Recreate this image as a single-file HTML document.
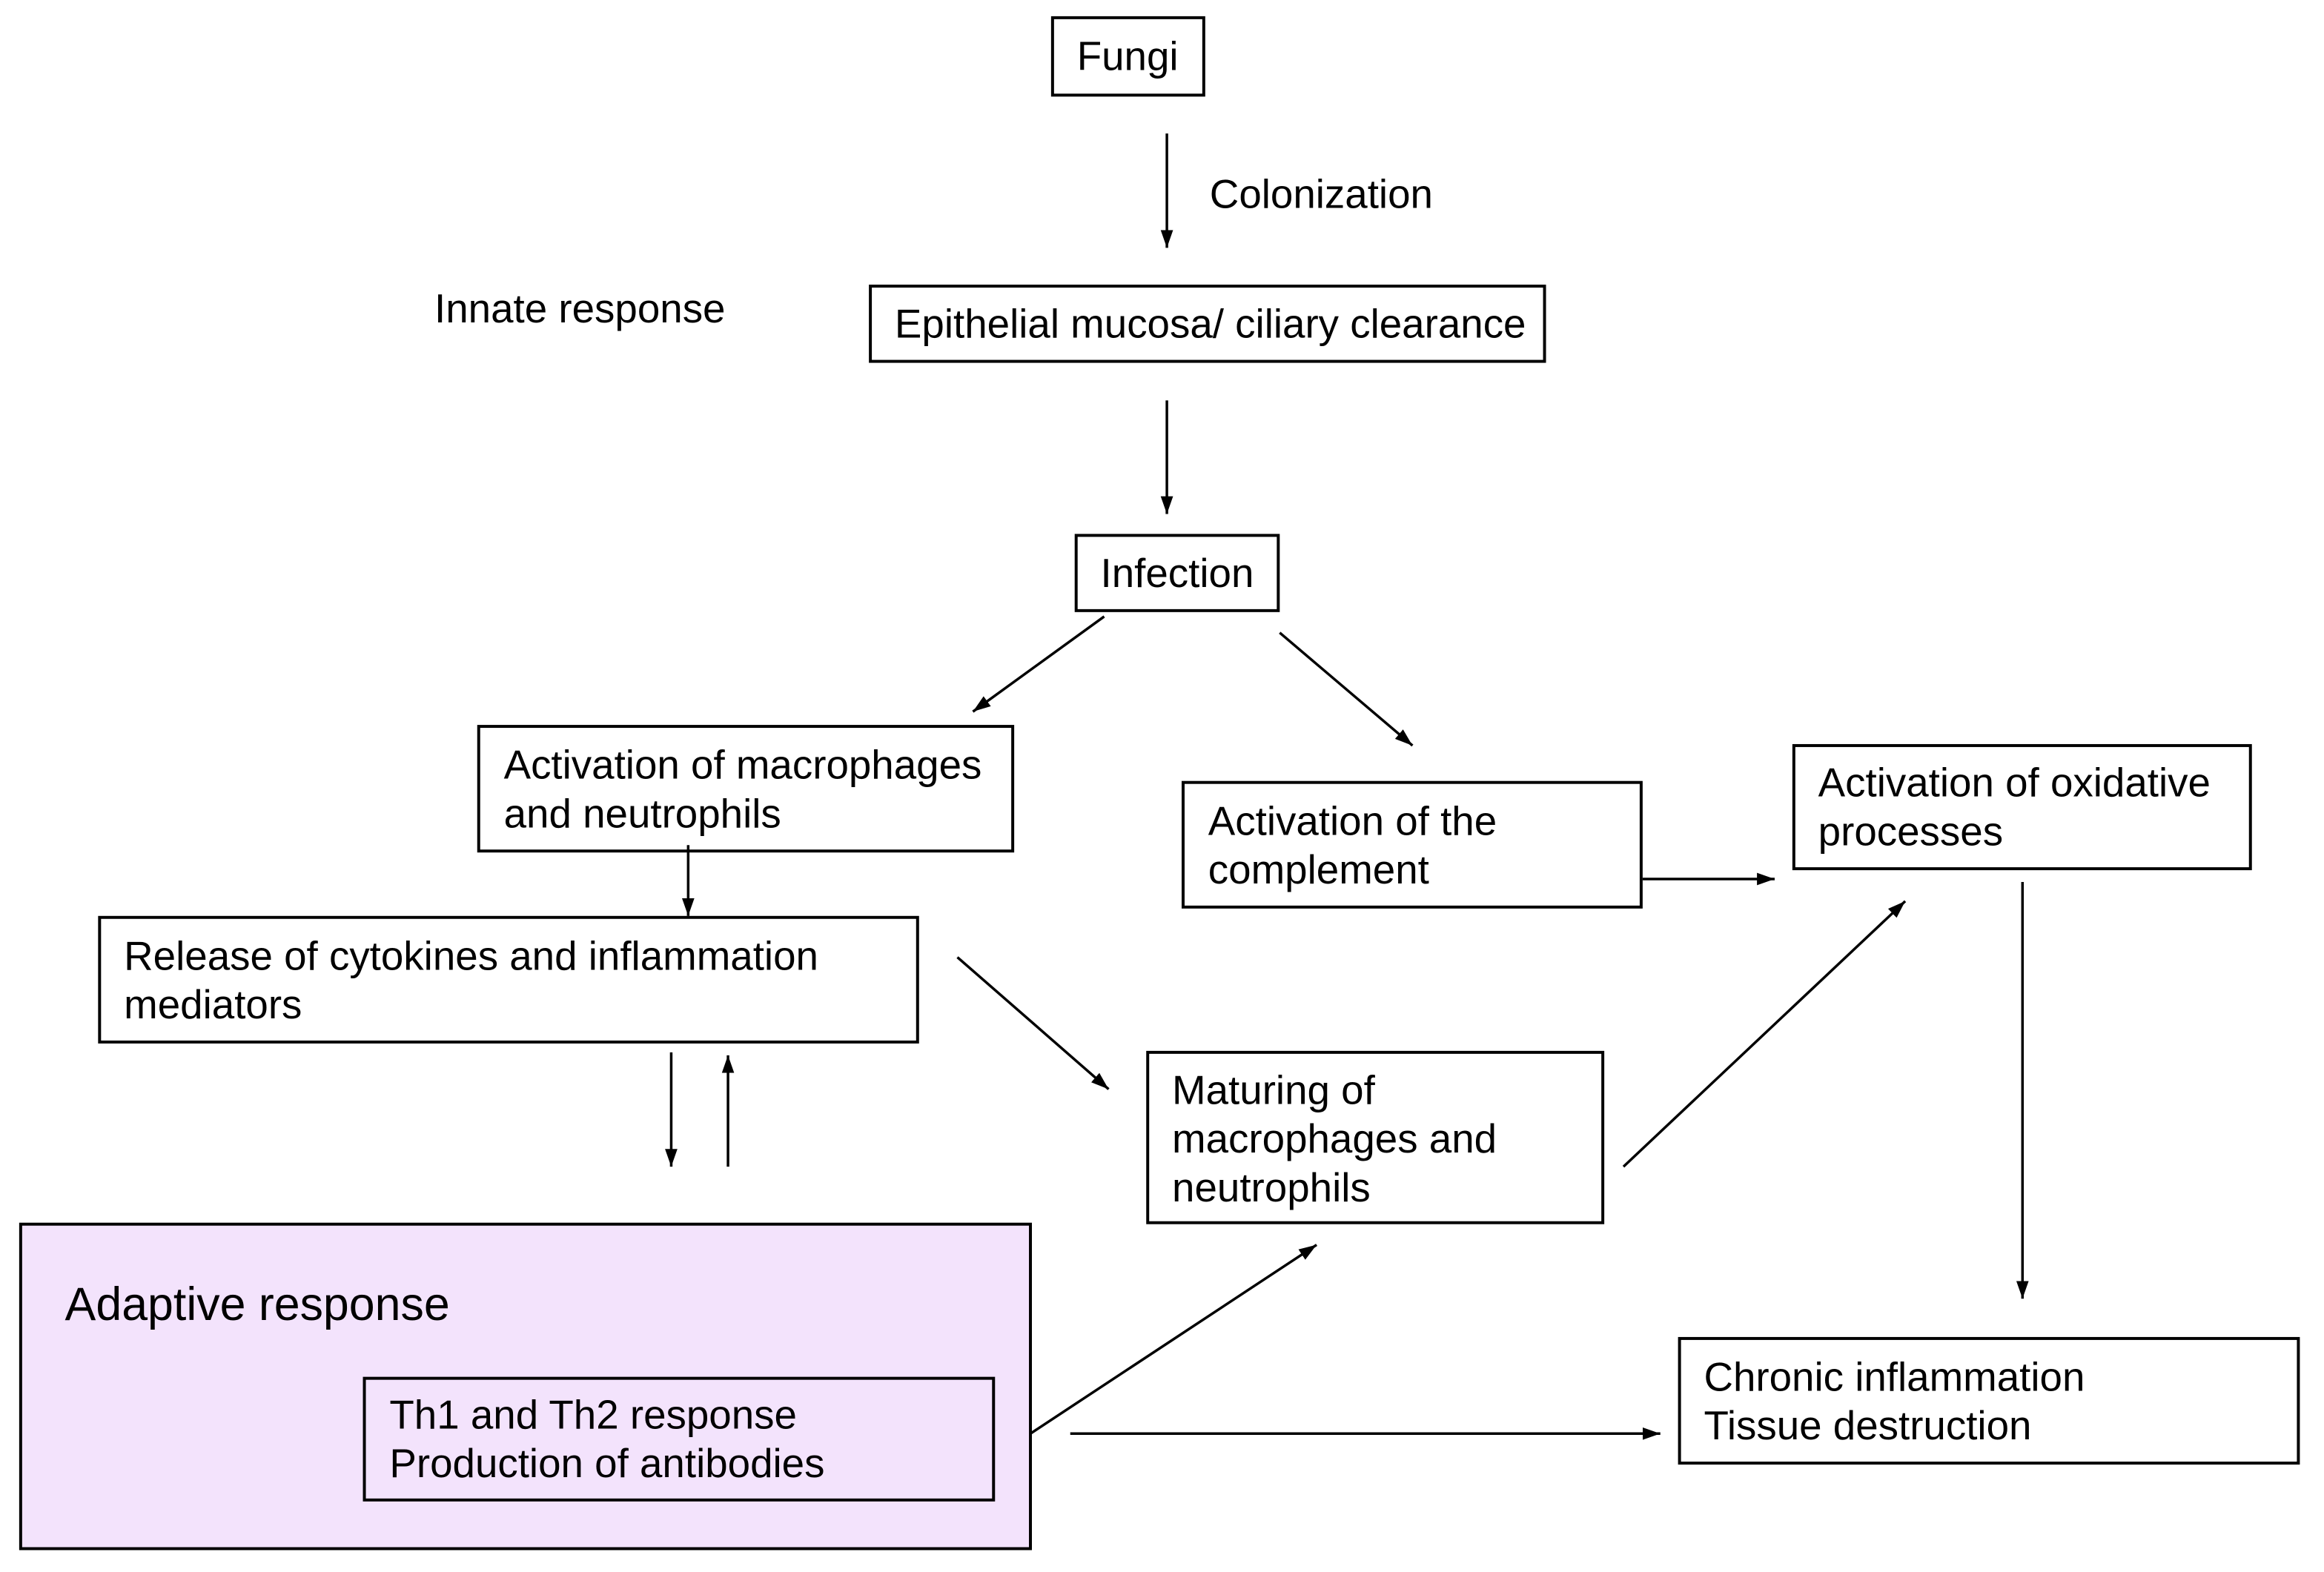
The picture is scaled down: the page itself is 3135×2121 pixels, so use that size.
<!DOCTYPE html>
<html><head><meta charset="utf-8"><style>
html,body{margin:0;padding:0;background:#fff;}
svg{display:block;}
text{font-family:"Liberation Sans",Arial,sans-serif;font-size:55px;fill:#000;}
</style></head><body>
<svg width="3135" height="2121" viewBox="0 0 3135 2121" xmlns="http://www.w3.org/2000/svg">
<defs>
<marker id="h" viewBox="0 0 10 10" refX="10" refY="5" markerWidth="24" markerHeight="24" markerUnits="userSpaceOnUse" orient="auto">
<path d="M0,1.5 L10,5 L0,8.5 z" fill="#000"/>
</marker>
</defs>
<g transform="scale(0.995)">
<g fill="none" stroke="#000" stroke-width="4">
<rect x="1427" y="24" width="205" height="105"/>
<rect x="1180" y="388" width="914" height="102"/>
<rect x="1459" y="726" width="274" height="102"/>
<rect x="649" y="985" width="724" height="169"/>
<rect x="1604" y="1061" width="621" height="169"/>
<rect x="2432" y="1011" width="619" height="167"/>
<rect x="135" y="1244" width="1109" height="169"/>
<rect x="1556" y="1427" width="617" height="231"/>
<rect x="28" y="1660" width="1369" height="440" fill="#f3e3fc"/>
<rect x="494" y="1869" width="853" height="165"/>
<rect x="2277" y="1815" width="839" height="169"/>
</g>
<g stroke="#000" stroke-width="3.5" marker-end="url(#h)">
<line x1="1582" y1="181" x2="1582" y2="336"/>
<line x1="1582" y1="543" x2="1582" y2="697"/>
<line x1="1497" y1="836" x2="1319" y2="965"/>
<line x1="1735" y1="858" x2="1915" y2="1011"/>
<line x1="2227" y1="1192" x2="2406" y2="1192"/>
<line x1="933" y1="1146" x2="933" y2="1242"/>
<line x1="1298" y1="1298" x2="1503" y2="1477"/>
<line x1="2201" y1="1582" x2="2583" y2="1222"/>
<line x1="2742" y1="1196" x2="2742" y2="1761"/>
<line x1="910" y1="1427" x2="910" y2="1582"/>
<line x1="987" y1="1582" x2="987" y2="1431"/>
<line x1="1397" y1="1944" x2="1785" y2="1688"/>
<line x1="1451" y1="1944" x2="2251" y2="1944"/>
</g>
<text x="1460" y="95">Fungi</text>
<text x="1640" y="282">Colonization</text>
<text x="589" y="437">Innate response</text>
<text x="1213" y="458">Epithelial mucosa/ ciliary clearance</text>
<text x="1492" y="796">Infection</text>
<text x="683" y="1056">Activation of macrophages</text>
<text x="683" y="1122">and neutrophils</text>
<text x="1638" y="1132">Activation of the</text>
<text x="1638" y="1198">complement</text>
<text x="2465" y="1080">Activation of oxidative</text>
<text x="2465" y="1146">processes</text>
<text x="168" y="1315">Release of cytokines and inflammation</text>
<text x="168" y="1381">mediators</text>
<text x="1589" y="1497">Maturing of</text>
<text x="1589" y="1563">macrophages and</text>
<text x="1589" y="1629">neutrophils</text>
<text x="88" y="1790" style="font-size:63px">Adaptive response</text>
<text x="528" y="1937">Th1 and Th2 response</text>
<text x="528" y="2003">Production of antibodies</text>
<text x="2310" y="1886">Chronic inflammation</text>
<text x="2310" y="1952">Tissue destruction</text>
</g>
</svg>
</body></html>
